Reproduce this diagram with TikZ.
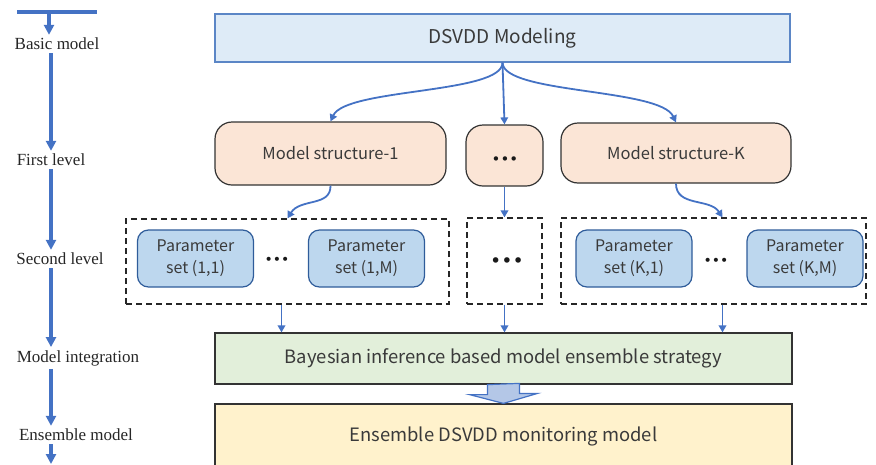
\documentclass[tikz,border=0pt]{standalone}
\usepackage{fontspec}
\setmainfont{Liberation Serif}
\newfontfamily\boxfont{Noto Sans CJK SC}
\newfontfamily\dotfont{DejaVu Sans}
\usetikzlibrary{arrows.meta,positioning}
\definecolor{lineblue}{HTML}{4472C4}
\definecolor{textgray}{HTML}{3A3A3A}
\definecolor{topfill}{HTML}{DEEBF7}
\definecolor{topborder}{HTML}{5B86C6}
\definecolor{structfill}{HTML}{FBE5D6}
\definecolor{paramfill}{HTML}{BDD7EE}
\definecolor{paramborder}{HTML}{2F5C9A}
\definecolor{bayesfill}{HTML}{E2EFDA}
\definecolor{ensfill}{HTML}{FFF2CC}
\definecolor{blockfill}{HTML}{B4C7E7}
\tikzset{
  levelarrow/.style={lineblue,line width=3.4pt,-{Triangle[width=10pt,length=10pt]}},
  flow/.style={lineblue,line width=1.8pt,-{Triangle[width=7.5pt,length=7pt]}},
  levellabel/.style={inner sep=3pt,font=\fontsize{17}{20}\selectfont,text=black!85},
  widebox/.style={rectangle,inner sep=0pt,minimum width=577pt,text=textgray,
    font=\boxfont\fontsize{18.4}{22}\selectfont},
  structbox/.style={rectangle,rounded corners=17pt,fill=structfill,draw=black!80,
    line width=1.2pt,inner sep=0pt,text=textgray,font=\boxfont\fontsize{16.5}{20}\selectfont},
  groupbox/.style={rectangle,draw=black!85,dash pattern=on 6pt off 4pt,line width=1.3pt,inner sep=0pt},
  paramset/.style={rectangle,rounded corners=11pt,fill=paramfill,draw=paramborder,
    line width=1.2pt,inner sep=0pt,minimum width=116pt,minimum height=57pt,align=center,
    text=textgray,font=\boxfont\fontsize{16}{22}\selectfont},
  dotsnode/.style={inner sep=0pt,text=black!90,font=\dotfont\fontsize{14}{16}\selectfont},
}
\begin{document}
\begin{tikzpicture}[x=1pt,y=-1pt]
\useasboundingbox (0,0) rectangle (876,464);
%% level axis
\coordinate (axis) at (51,0);
\coordinate (bar west) at (17,12);
\coordinate (bar east) at (97,12);
\coordinate (bar mid) at (49,12);
\coordinate (axis end) at (51,464);
\node[levellabel] (basic) at (57,44) {Basic model};
\node[levellabel] (first) at (51,160) {First level};
\node[levellabel] (second) at (60,259) {Second level};
\node[levellabel] (integ) at (78,358) {Model integration};
\node[levellabel] (ensm) at (76,435) {Ensemble model};
\draw[lineblue,line width=3.4pt] (bar west) -- (bar east);
\draw[levelarrow] (bar mid) -- (bar mid |- basic.north);
\draw[levelarrow] (basic.south -| axis) -- (first.north -| axis);
\draw[levelarrow] (first.south -| axis) -- (second.north -| axis);
\draw[levelarrow] (second.south -| axis) -- (integ.north -| axis);
\draw[levelarrow] (integ.south -| axis) -- (ensm.north -| axis);
\draw[levelarrow] (ensm.south -| axis) -- (axis end);
%% boxes
\node[widebox,draw=topborder,fill=topfill,line width=1.2pt,minimum width=575pt,minimum height=48pt,
  font=\boxfont\fontsize{19}{22}\selectfont] (dsvdd) at (502.5,38) {DSVDD Modeling};
\node[structbox,minimum width=231pt,minimum height=63pt] (ms1) at (330.5,153.5) {Model structure-1};
\node[structbox,minimum width=77pt,minimum height=61pt] (msdots) at (504.5,155.5) {};
\node[dotsnode,font=\dotfont\fontsize{15}{16}\selectfont] (msdotstext) at (505,161) {•••};
\node[structbox,minimum width=230pt,minimum height=60pt] (msK) at (676,153) {Model structure-K};
\node[groupbox,minimum width=323pt,minimum height=85pt] (grp1) at (287.5,261.5) {};
\node[groupbox,minimum width=75pt,minimum height=86pt] (grpdots) at (504.5,261) {};
\node[groupbox,minimum width=305pt,minimum height=86pt] (grpK) at (713.5,261) {};
\node[paramset] (p11) at (195.5,258.5) {Parameter\\set (1,1)};
\node[paramset] (p1M) at (366.5,258.5) {Parameter\\set (1,M)};
\node[paramset] (pK1) at (634,258.5) {Parameter\\set (K,1)};
\node[paramset] (pKM) at (805,258.5) {Parameter\\set (K,M)};
\node[dotsnode] (dots1) at (277,261) {•••};
\node[dotsnode] (dotsK) at (716,262) {•••};
\node[dotsnode,font=\dotfont\fontsize{19}{20}\selectfont] (dotsmid) at (507,263) {•••};
\node[widebox,draw=black!80,fill=bayesfill,line width=1.2pt,minimum height=51pt] (bayes) at (503.5,358.5)
  {Bayesian inference based model ensemble strategy};
\node[widebox,draw=black!80,fill=ensfill,line width=1.2pt,minimum height=64pt] (ensemble) at (503.5,436)
  {Ensemble DSVDD monitoring model};
%% connectors
\draw[flow] (dsvdd.south) .. controls (503,94) and (346,88) .. (ms1.north);
\draw[flow] (dsvdd.south) -- (msdots.north);
\draw[flow] (dsvdd.south) .. controls (503,94) and (660,88) .. (msK.north);
\draw[flow] (ms1.south) .. controls (331,207) and (300,198) .. (grp1.north);
\draw[flow] (msdots.south) -- (grpdots.north);
\draw[flow] (msK.south) .. controls (676,207) and (710,198) .. ([xshift=9pt]grpK.north);
\draw[flow] ([xshift=-6pt]grp1.south) -- ([xshift=-6pt]grp1.south |- bayes.north);
\draw[flow] (grpdots.south) -- (grpdots.south |- bayes.north);
\draw[flow] ([xshift=9pt]grpK.south) -- ([xshift=9pt]grpK.south |- bayes.north);
\draw[draw=lineblue,fill=blockfill,line width=1.2pt,line join=miter] ([xshift=-16pt]bayes.south) -- ++(0,10) -- ++(-18,0)
  -- (ensemble.north) -- ++(34,-10) -- ++(-18,0) -- ++(0,-10) -- cycle;
\end{tikzpicture}
\end{document}
